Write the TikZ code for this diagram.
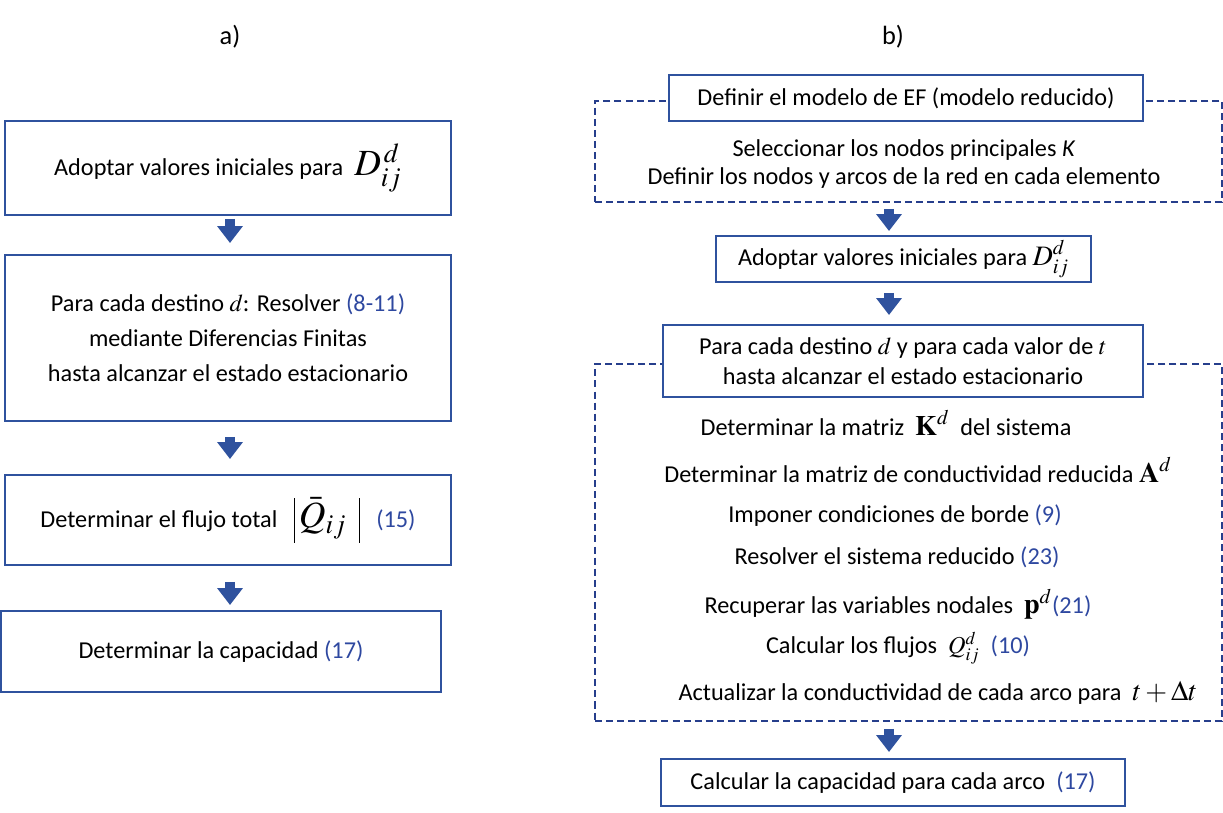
\documentclass[tikz,border=0pt]{standalone}
\usepackage{mathptmx}
\usepackage[no-math]{fontspec}
\setmainfont{Carlito}
\usepackage{xcolor}
\usetikzlibrary{arrows.meta}
\definecolor{boxblue}{RGB}{47, 82, 158}
\definecolor{dashblue}{RGB}{38, 62, 140}
\definecolor{eqblue}{RGB}{46, 72, 160}
\newcommand{\refq}[1]{\textcolor{eqblue}{#1}}
\newcommand{\grandem}[1]{{\fontsize{21}{22}\selectfont$#1$}}
\newcommand{\medim}[1]{{\fontsize{16}{18}\selectfont$#1$}}
\newcommand{\barra}{\rule[-0.4em]{0.6pt}{1.21em}}

\begin{document}
\begin{tikzpicture}[
    font=\fontsize{13.8}{16}\selectfont,
    caja/.style={draw=boxblue, line width=1.1pt, fill=white, align=center, inner sep=0pt},
    marco/.style={draw=dashblue, line width=1pt, dash pattern=on 4pt off 2.3pt, inner sep=0pt},
    flecha/.style={draw=boxblue, line width=5.7pt, -{Triangle[width=14pt,length=9.6pt]}},
  ]
  \useasboundingbox (0,0) rectangle (24.46,-16.26);

  %% a) diferencias finitas
  \node (titA) at (4.6,-0.74) {\fontsize{15}{17}\selectfont a)};

  \node[caja, minimum width=8.92cm, minimum height=1.88cm] (adopA) at (4.56,-3.36)
    {Adoptar valores iniciales para \ \grandem{D_{ij}^{\,d}}};
  \node[caja, minimum width=8.92cm, minimum height=3.32cm,
        font=\fontsize{13.8}{20}\selectfont] (resolA) at (4.56,-6.76)
    {Para cada destino $d$: Resolver \refq{(8-11)}\\
     mediante Diferencias Finitas\\
     hasta alcanzar el estado estacionario};
  \node[caja, minimum width=8.92cm, minimum height=1.8cm] (flujoA) at (4.56,-10.4)
    {Determinar el flujo total \ \ \grandem{\barra\,\bar{Q}_{ij}\;\,\barra} \ \ \refq{(15)}};
  \node[caja, minimum width=8.8cm, minimum height=1.62cm] (capA) at (4.42,-13.03)
    {Determinar la capacidad \refq{(17)}};

  \coordinate (axA) at (4.6,0);
  \draw[flecha, shorten <=0.06cm, shorten >=0.22cm] (adopA.south -| axA) -- (resolA.north -| axA);
  \draw[flecha, shorten <=0.3cm, shorten >=0.3cm] (resolA.south -| axA) -- (flujoA.north -| axA);
  \draw[flecha, shorten <=0.32cm, shorten >=0.1cm] (flujoA.south -| axA) -- (capA.north -| axA);

  %% b) elementos finitos
  \node (titB) at (17.86,-0.74) {\fontsize{15}{17}\selectfont b)};

  \node[marco, minimum width=12.54cm, minimum height=2.02cm] (dashEF) at (18.17,-3.03) {};
  \node[caja, minimum width=9.48cm, minimum height=0.92cm] (defEF) at (18.12,-1.96)
    {Definir el modelo de EF (modelo reducido)};
  \node[align=center, font=\fontsize{13.8}{16}\selectfont] (nodosEF) at (18.08,-3.28)
    {Seleccionar los nodos principales \textit{K}\\
     Definir los nodos y arcos de la red en cada elemento};

  \node[caja, minimum width=7.5cm, minimum height=0.92cm] (adopB) at (18.07,-5.18)
    {Adoptar valores iniciales para \medim{D_{ij}^{d}}};

  \node[marco, minimum width=12.54cm, minimum height=7.14cm] (dashB) at (18.17,-10.85) {};
  \node[caja, minimum width=9.6cm, minimum height=1.44cm,
        font=\fontsize{13.8}{17}\selectfont] (paraB) at (18.06,-7.22)
    {Para cada destino $d$ y para cada valor de $t$\\
     hasta alcanzar el estado estacionario};

  \node (matK) at (17.72,-8.46) {Determinar la matriz \ \medim{\mathbf{K}^{d}} \ del sistema};
  \node (matA) at (18.36,-9.40) {Determinar la matriz de conductividad reducida \medim{\mathbf{A}^{d}}};
  \node (bordes) at (17.9,-10.32) {Imponer condiciones de borde \refq{(9)}};
  \node (resol) at (17.94,-11.14) {Resolver el sistema reducido \refq{(23)}};
  \node (recup) at (17.96,-12.08) {Recuperar las variables nodales \ \medim{\mathbf{p}^{d}}\refq{(21)}};
  \node (flujos) at (17.96,-12.96) {Calcular los flujos \ $Q_{ij}^{d}$ \ \refq{(10)}};
  \node (actual) at (18.76,-13.86) {Actualizar la conductividad de cada arco para \ \medim{t+\Delta t}};

  \node[caja, minimum width=9.28cm, minimum height=0.94cm] (capB) at (17.86,-15.65)
    {Calcular la capacidad para cada arco \ \refq{(17)}};

  \coordinate (axB) at (17.78,0);
  \draw[flecha, shorten <=0.12cm, shorten >=0.08cm] (dashEF.south -| axB) -- (adopB.north -| axB);
  \draw[flecha, shorten <=0.2cm, shorten >=0.18cm] (adopB.south -| axB) -- (paraB.north -| axB);
  \draw[flecha, shorten <=0.14cm, shorten >=0.12cm] (dashB.south -| axB) -- (capB.north -| axB);
\end{tikzpicture}
\end{document}
